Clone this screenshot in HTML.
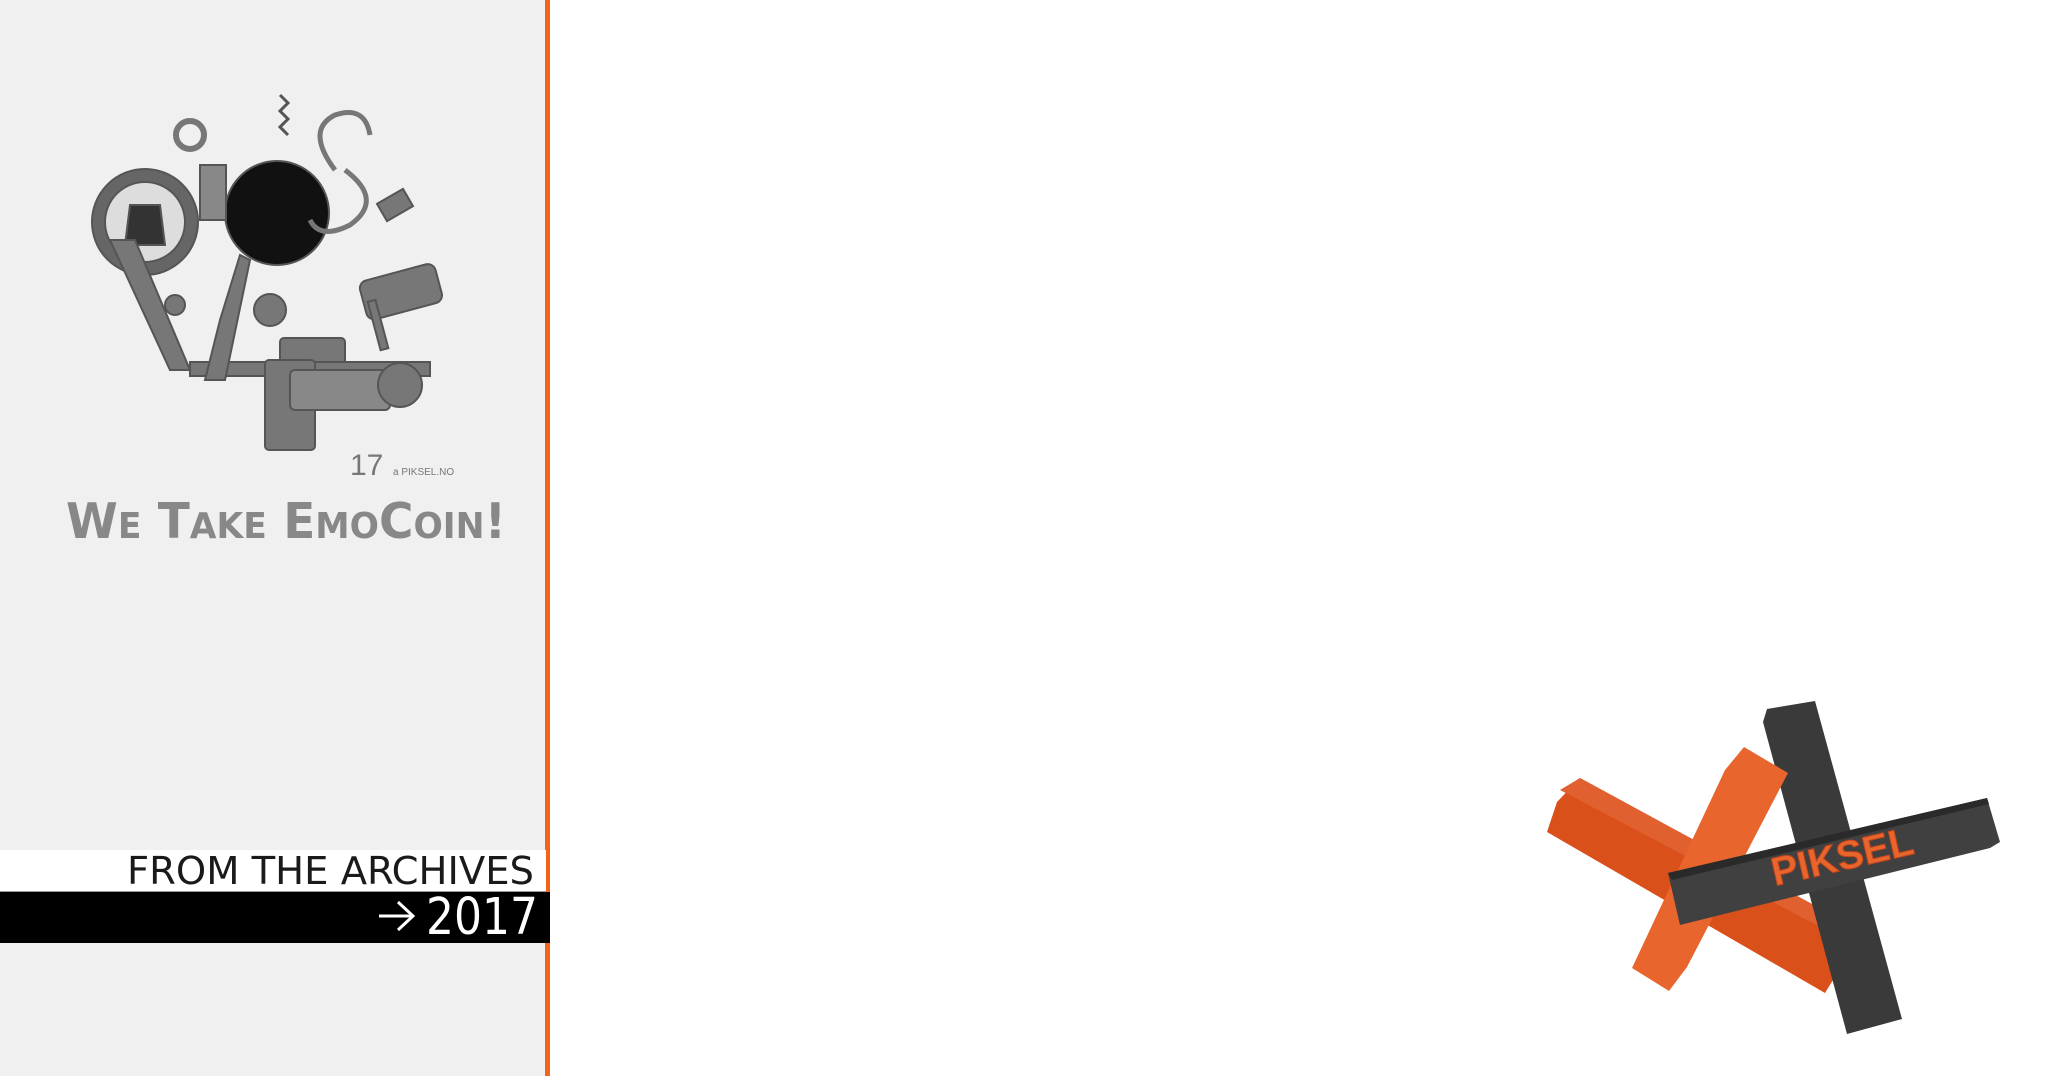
<!DOCTYPE html>
<html><head><meta charset="utf-8"><style>
html,body{margin:0;padding:0;}
body{width:2050px;height:1076px;position:relative;overflow:hidden;background:#fff;font-family:"Liberation Sans",sans-serif;}
#left{position:absolute;left:0;top:0;width:545px;height:1076px;background:#f0f0f0;}
#line{position:absolute;left:545px;top:0;width:5px;height:1076px;background:#f26419;}
</style></head><body>
<div id="left"></div>
<div id="line"></div>
<svg style="position:absolute;left:0;top:0" width="550" height="1076">
<g fill="#777" stroke="#555" stroke-width="2">
<circle cx="145" cy="222" r="53" fill="#666"/>
<circle cx="145" cy="222" r="40" fill="#ddd"/>
<path d="M130 205 L160 205 L165 245 L125 245Z" fill="#333"/>
<circle cx="277" cy="213" r="52" fill="#111"/>
<rect x="200" y="165" width="26" height="55" fill="#888"/>
<circle cx="190" cy="135" r="14" fill="none" stroke="#777" stroke-width="6"/>
<path d="M280 95 l8 8 -8 8 8 8 -8 8 8 8" fill="none" stroke="#555" stroke-width="3"/>
<path d="M335 170 q-30 -40 0 -55 q30 -10 35 20" fill="none" stroke="#777" stroke-width="5"/>
<path d="M345 170 q40 30 5 55 q-30 15 -40 -5" fill="none" stroke="#777" stroke-width="5"/>
<rect x="380" y="195" width="30" height="20" transform="rotate(-30 395 205)"/>
<rect x="362" y="272" width="78" height="40" rx="8" transform="rotate(-15 400 292)"/>
<rect x="374" y="300" width="8" height="50" transform="rotate(-15 378 325)"/>
<rect x="280" y="338" width="65" height="40" rx="4"/>
<rect x="190" y="362" width="240" height="14"/>
<rect x="265" y="360" width="50" height="90" rx="4"/>
<rect x="290" y="370" width="100" height="40" rx="5" fill="#888"/>
<circle cx="400" cy="385" r="22"/>
<path d="M110 240 L170 370 L190 370 L135 240Z"/>
<path d="M240 255 L220 320 L205 380 L225 380 L250 260Z"/>
<circle cx="270" cy="310" r="16"/>
<circle cx="175" cy="305" r="10"/>
</g>
<text x="350" y="475" font-family="Liberation Sans" font-size="30" fill="#777">17</text>
<text x="393" y="475" font-family="Liberation Sans" font-size="10" fill="#777">a PIKSEL.NO</text>
<text x="66" y="538" font-family="DejaVu Sans,Liberation Sans,sans-serif" font-weight="bold" font-size="49" fill="#888" textLength="440" lengthAdjust="spacingAndGlyphs">W<tspan font-size="36">E</tspan> T<tspan font-size="36">AKE</tspan> E<tspan font-size="36">MO</tspan>C<tspan font-size="36">OIN</tspan>!</text>
<rect x="0" y="850" width="546" height="42" fill="#fff"/>
<rect x="0" y="891" width="546" height="1" fill="#999"/>
<rect x="0" y="892" width="550" height="51" fill="#000"/>
<text x="127" y="884" font-family="DejaVu Sans Condensed,Liberation Sans,sans-serif" font-size="38" fill="#1a1a1a" textLength="407" lengthAdjust="spacingAndGlyphs">FROM THE ARCHIVES</text>
<path d="M379 916 H412 M398 902 L413 916 L398 930" stroke="#fff" stroke-width="3" fill="none"/>
<text x="426" y="934" font-family="DejaVu Sans Condensed,Liberation Sans,sans-serif" font-size="51" fill="#fff" textLength="112" lengthAdjust="spacingAndGlyphs">2017</text>
</svg>
<svg style="position:absolute;left:0;top:0" width="2050" height="1076">
<polygon points="1580,778 1823,910 1833,980 1825,993 1547,832 1557,802" fill="#d9501a"/>
<polygon points="1580,778 1823,910 1826,930 1560,790" fill="#e06030"/>
<polygon points="1767,709 1815,701 1902,1019 1847,1034 1763,722" fill="#3a3a3a"/>
<polygon points="1744,747 1788,773 1687,967 1669,991 1632,968 1725,770" fill="#e8652e"/>
<polygon points="1668,873 1987,798 2000,842 1990,848 1680,925" fill="#404040"/>
<polygon points="1668,873 1987,798 1989,804 1672,880" fill="#2a2a2a"/>
<text x="1843" y="870" text-anchor="middle" transform="rotate(-13 1843 860)" font-family="Liberation Sans" font-weight="bold" font-size="40" fill="#e8652e" stroke="#c0441a" stroke-width="1">PIKSEL</text>
</svg>
</body></html>
